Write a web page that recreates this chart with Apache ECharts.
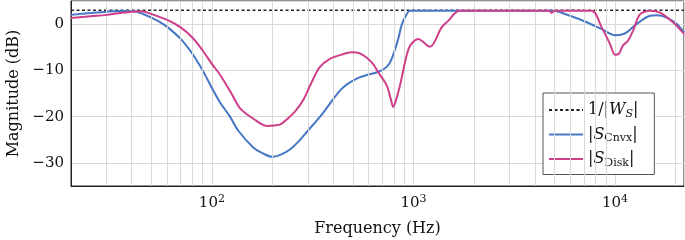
<!DOCTYPE html>
<html>
<head>
<meta charset="utf-8">
<script src="https://cdn.jsdelivr.net/npm/echarts@6/dist/echarts.min.js"></script>
<style>
  html, body { margin: 0; padding: 0; background: #fff; }
  #chart { width: 685px; height: 240px; }
</style>
</head>
<body>
<div id="chart"></div>
<script>
// |S_Cnvx| magnitude (dB) against frequency (Hz)
const cnvxFreq = [20, 25, 30, 35, 40, 45, 50, 55, 60, 70, 80, 90, 100, 110, 123, 135, 160, 180, 200, 220, 244, 270, 300, 350, 400, 440, 484, 540, 600, 660, 720, 760, 800, 840, 880, 925, 960,
  4900, 5980, 7240, 8590, 10000, 10700, 11430, 12810, 14920, 16100, 18050, 20240, 22000]
const cnvxMag = [2.0, 2.4, 2.7, 2.85, 2.85, 2.3, 1.4, 0.5, -0.6, -3.2, -6.4, -10.0, -13.8, -17.0, -20.0, -23.0, -26.6, -28.0, -28.7, -28.2, -27.1, -25.3, -23.0, -19.6, -16.2, -14.0, -12.6, -11.5, -10.9, -10.4, -9.6, -8.5, -6.2, -3.2, 0.2, 2.1, 2.9,
  2.9, 1.8, 0.4, -1.1, -2.4, -2.3, -1.8, 0.0, 1.8, 1.9, 1.4, 0.0, -1.8]

// |S_Disk|
const diskFreq = [20, 25, 30, 35, 40, 45, 50, 60, 70, 80, 90, 100, 110, 125, 138, 160, 187, 205, 220, 244, 262, 284, 313, 343, 385, 440, 494, 540, 585, 630, 669, 736, 770, 794, 825, 858, 925, 965, 1056, 1208, 1380, 1488, 1688,
  4700, 4850, 5000, 7660, 8590, 9450, 10000, 10450, 10960, 11600, 12300, 13300, 14920, 16730, 19470, 22000]
const diskMag = [1.3, 1.7, 2.0, 2.4, 2.7, 2.8, 2.2, 0.9, -0.7, -2.9, -5.7, -8.6, -11.0, -15.0, -18.2, -20.4, -22.0, -21.9, -21.6, -20.0, -18.6, -16.4, -12.5, -9.3, -7.5, -6.6, -6.1, -6.3, -7.2, -8.6, -10.4, -13.2, -16.0, -17.9, -16.0, -13.2, -6.8, -4.6, -3.2, -4.9, -0.7, 0.7, 2.9,
  2.9, 2.4, 2.9, 2.9, -0.7, -4.3, -6.6, -6.4, -4.6, -3.6, -1.4, 2.1, 2.9, 2.5, 0.35, -2.1]

// 1/|W_S| bound
const wsFreq = [20, 22000]
const wsMag = [3, 3]

// minor log grid lines
const minorFreq = [30, 40, 50, 60, 70, 80, 90, 200, 300, 400, 500, 600, 700, 800, 900,
  2000, 3000, 4000, 5000, 6000, 7000, 8000, 9000, 20000]

const font = 'DejaVu Serif'
const gridColor = '#d9d9d9'
const blue = '#4677c4'
const magenta = '#cf3f89'

function pairs(xs, ys) {
  return xs.map((x, i) => [x, ys[i]])
}

const legendText = {
  Ws: '1/|{i|W}{isub|S}|',
  Cnvx: '|{i|S}{sub|Cnvx}|',
  Disk: '|{i|S}{sub|Disk}|'
}

const chart = echarts.init(document.getElementById('chart'))
chart.setOption({
  animation: false,
  backgroundColor: '#fff',
  textStyle: { fontFamily: font },
  grid: {
    left: 71,
    right: 1,
    top: 1,
    bottom: 54,
    outerBoundsMode: 'none',
    containLabel: false,
    show: true,
    borderColor: '#222',
    borderWidth: 1
  },
  legend: {
    orient: 'vertical',
    left: 543,
    top: 93,
    padding: [9, 16, 6, 5],
    itemWidth: 34,
    itemHeight: 14,
    itemGap: 7,
    backgroundColor: '#fff',
    borderColor: '#555',
    borderWidth: 1,
    borderRadius: 0,
    itemStyle: { opacity: 0 },
    data: ['Ws', 'Cnvx', 'Disk'],
    formatter: name => legendText[name],
    textStyle: {
      fontFamily: font,
      fontSize: 16,
      color: '#111',
      rich: {
        i: { fontFamily: font, fontSize: 16, fontStyle: 'italic', color: '#111' },
        isub: { fontFamily: font, fontSize: 11, fontStyle: 'italic', color: '#111', padding: [8, 0, 0, 0] },
        sub: { fontFamily: font, fontSize: 11, color: '#111', padding: [8, 0, 0, 0] }
      }
    }
  },
  xAxis: {
    type: 'log',
    logBase: 10,
    min: 20,
    max: 22000,
    name: 'Frequency (Hz)',
    nameLocation: 'middle',
    nameGap: 35,
    nameTextStyle: { fontFamily: font, fontSize: 16, color: '#111' },
    axisLine: { show: true, onZero: false, lineStyle: { color: '#222', width: 1 } },
    axisTick: { show: false },
    splitLine: { show: true, lineStyle: { color: gridColor, width: 1 } },
    axisLabel: {
      margin: 8,
      color: '#111',
      fontFamily: font,
      fontSize: 15,
      formatter: v => {
        const p = Math.round(Math.log10(v))
        if (Math.abs(Math.log10(v) - p) > 1e-6) return ''
        return '10{sup|' + p + '}'
      },
      rich: {
        sup: { fontFamily: font, fontSize: 11, color: '#111', padding: [0, 0, 8, 0] }
      }
    }
  },
  yAxis: {
    type: 'value',
    min: -35,
    max: 5,
    splitNumber: 4,
    name: 'Magnitude (dB)',
    nameLocation: 'middle',
    nameGap: 49,
    nameTextStyle: { fontFamily: font, fontSize: 16, color: '#111' },
    axisLine: { show: true, onZero: false, lineStyle: { color: '#222', width: 1 } },
    axisTick: { show: false },
    splitLine: { show: true, lineStyle: { color: gridColor, width: 1 } },
    axisLabel: {
      margin: 7,
      color: '#111',
      fontFamily: font,
      fontSize: 15,
      formatter: v => {
        if (v % 10 !== 0) return ''
        return v < 0 ? '\u2212' + (-v) : String(v)
      }
    }
  },
  series: [{
    name: 'grid',
    type: 'line',
    data: [],
    silent: true,
    z: 1,
    markLine: {
      silent: true,
      symbol: ['none', 'none'],
      label: { show: false },
      lineStyle: { color: gridColor, width: 1, type: 'solid' },
      data: minorFreq.map(f => ({ xAxis: f }))
    }
  }, {
    name: 'Ws',
    type: 'line',
    data: pairs(wsFreq, wsMag),
    symbol: 'none',
    z: 3,
    lineStyle: { color: '#222', width: 1.5, type: [3, 2.5] },
    itemStyle: { color: '#222' }
  }, {
    name: 'Cnvx',
    type: 'line',
    data: pairs(cnvxFreq, cnvxMag),
    symbol: 'none',
    smooth: 0.3,
    z: 4,
    lineStyle: { color: blue, width: 2 },
    itemStyle: { color: blue }
  }, {
    name: 'Disk',
    type: 'line',
    data: pairs(diskFreq, diskMag),
    symbol: 'none',
    smooth: 0.3,
    z: 5,
    lineStyle: { color: magenta, width: 2 },
    itemStyle: { color: magenta }
  }]
})
</script>
</body>
</html>
